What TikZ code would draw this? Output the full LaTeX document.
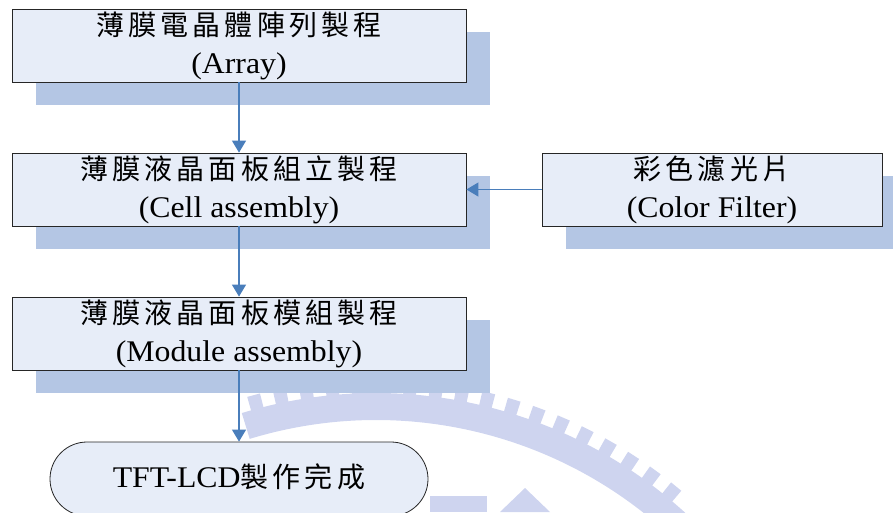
\documentclass[tikz,border=0pt]{standalone}
\usepackage{fontspec}
\setmainfont{Liberation Serif}[FakeStretch=1.06]
\newfontfamily\cjkfont{Noto Sans CJK TC}[LetterSpace=15]
\newcommand\zh[1]{{\cjkfont\fontsize{28}{34}\selectfont #1}}
\usetikzlibrary{arrows.meta,shapes.misc,shadows,calc}

\definecolor{boxfill}{RGB}{231,237,248}
\definecolor{shadowblue}{RGB}{180,198,228}
\definecolor{flowblue}{RGB}{74,126,187}
\definecolor{crestblue}{RGB}{206,212,239}

\begin{document}
\begin{tikzpicture}[x=1pt,y=-1pt,
  procbox/.style={draw=black!85, line width=0.8pt, fill=boxfill,
    minimum width=454pt, minimum height=73pt, inner sep=0pt,
    drop shadow={shadow xshift=24pt, shadow yshift=-23pt, fill=shadowblue, opacity=1}},
  endcap/.style={rounded rectangle, draw=black!85, line width=0.8pt, fill=boxfill,
    minimum width=378pt, minimum height=74pt, inner sep=0pt},
  zhline/.style={anchor=base, inner sep=0pt, font=\cjkfont\fontsize{28}{34}\selectfont},
  enline/.style={anchor=base, inner sep=0pt, font=\fontsize{30}{36}\selectfont},
  flow/.style={draw=flowblue, line width=1.1pt, -{Triangle[width=14pt,length=12pt]}},
  crest/.style={fill=crestblue, draw=none}]
\useasboundingbox (0,0) rectangle (893,512);
\clip (0,0) rectangle (893,512);

% faint toothed ring in the lower right
\coordinate (crest) at (376,852);
\fill[crest] ($(crest)+(-107:459)$) arc[start angle=-107, end angle=-47, radius=459]
  -- ($(crest)+(-47:432)$) arc[start angle=-47, end angle=-107, radius=432] -- cycle;
\foreach \a in {-105,-101.8,...,-48}{
  \fill[crest] ($(crest)+(\a-0.8:458)$) -- ($(crest)+(\a-0.8:473)$)
    -- ($(crest)+(\a+0.8:473)$) -- ($(crest)+(\a+0.8:458)$) -- cycle;
}
\fill[crest] (430,496) rectangle (487,512);
\fill[crest] (500,512) -- (525,488) -- (550,512) -- cycle;

% process steps
\node[procbox] (array) at (239,45.5) {};
\node[zhline] (array-zh) at ($(array.center)+(0,-10)$) {薄膜電晶體陣列製程};
\node[enline] (array-en) at ($(array.center)+(0,28)$) {(Array)};

\node[procbox] (cell) at (239,189.5) {};
\node[zhline] (cell-zh) at ($(cell.center)+(0,-10)$) {薄膜液晶面板組立製程};
\node[enline] (cell-en) at ($(cell.center)+(0,28)$) {(Cell assembly)};

\node[procbox, minimum width=340pt] (cf) at (712,189.5) {};
\node[zhline] (cf-zh) at ($(cf.center)+(0,-10)$) {彩色濾光片};
\node[enline] (cf-en) at ($(cf.center)+(0,28)$) {(Color Filter)};

\node[procbox] (module) at (239,333.5) {};
\node[zhline] (module-zh) at ($(module.center)+(0,-10)$) {薄膜液晶面板模組製程};
\node[enline] (module-en) at ($(module.center)+(0,28)$) {(Module assembly)};

\node[endcap] (done) at (239,479) {};
\node[enline] (done-txt) at ($(done.center)+(0,8)$) {TFT-LCD\zh{製作完成}};

% flow
\draw[flow] (array) -- (cell);
\draw[flow] (cf) -- (cell);
\draw[flow] (cell) -- (module);
\draw[flow] (module) -- (done);
\end{tikzpicture}
\end{document}
